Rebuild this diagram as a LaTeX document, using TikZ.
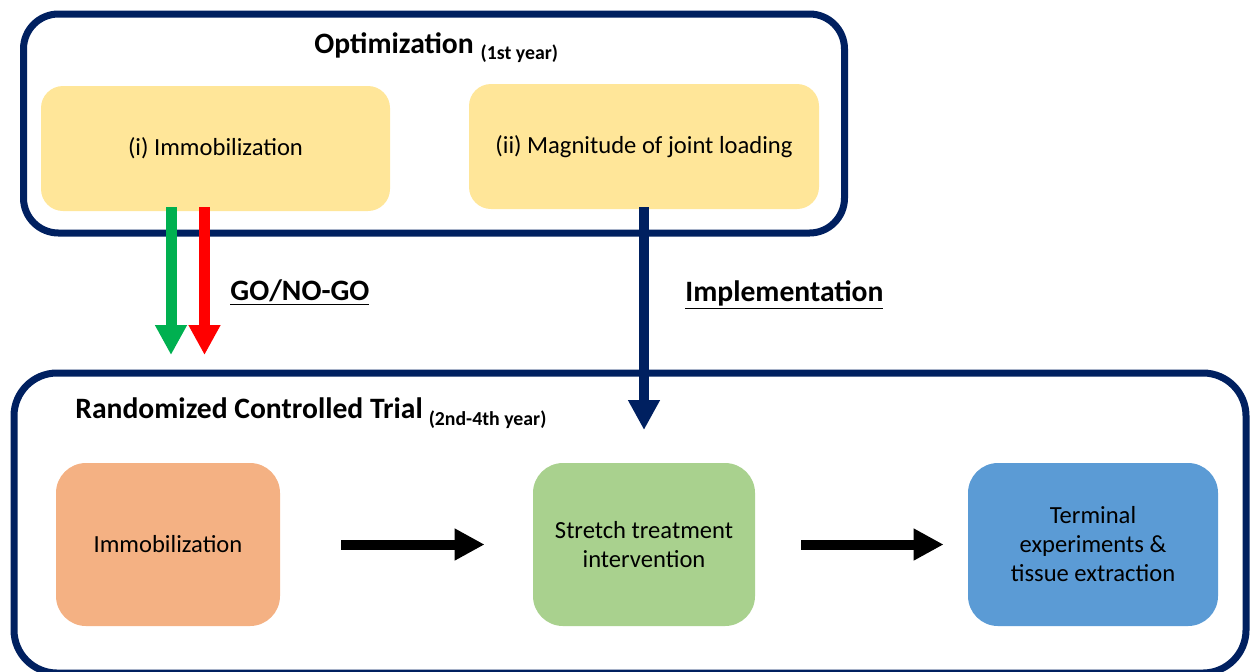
\documentclass[tikz,border=0pt]{standalone}
\usepackage{fontspec}
\setmainfont{Carlito}
\usetikzlibrary{arrows.meta,calc}
\definecolor{navy}{HTML}{002060}
\definecolor{paleyellow}{HTML}{FFE699}
\definecolor{peach}{HTML}{F4B183}
\definecolor{leaf}{HTML}{A9D18E}
\definecolor{sky}{HTML}{5B9BD5}
\definecolor{gogreen}{HTML}{00B050}
\definecolor{nogored}{HTML}{FF0000}
\newcommand{\headfont}{\fontsize{14.8}{17.5}\selectfont\bfseries}
\newcommand{\yearfont}{\fontsize{9.9}{11}\selectfont\bfseries}
\newcommand{\cardfont}{\fontsize{12.3}{14.5}\selectfont}
\tikzset{
  phase/.style={draw=navy, line width=3.5pt, fill=none, inner sep=0pt},
  card/.style={draw=none, rounded corners=11pt, align=center, inner sep=2pt, font=\cardfont},
  rctcard/.style={card, rounded corners=15pt, minimum width=#1, minimum height=81.5pt},
  block/.style={line width=5pt, -{Triangle[width=15pt,length=15pt]}},
  lbl/.style={inner sep=0pt, font=\headfont},
}
\begin{document}
\begin{tikzpicture}[x=0.5pt,y=-0.5pt]
\useasboundingbox (0,0) rectangle (1251,671);

% phase frames
\node[phase, rounded corners=17.5pt, minimum width=410.5pt, minimum height=109.5pt] (opt) at (434,123.5) {};
\node[phase, rounded corners=21.5pt, minimum width=616pt, minimum height=150pt] (rct) at (630,523) {};

% phase titles
\node[lbl, anchor=base west] (opttitle) at (314,53)
  {Optimization\hspace{3.5pt}\raisebox{-3pt}{\yearfont (1st year)}};
\node[lbl, anchor=base west] (rcttitle) at (75,418)
  {Randomized Controlled Trial\hspace{3pt}\raisebox{-3.5pt}{\yearfont (2nd-4th year)}};

% optimization studies
\node[card, fill=paleyellow, minimum width=174.5pt, minimum height=62.5pt] (immo) at (215.5,148.5) {(i) Immobilization};
\node[card, fill=paleyellow, minimum width=175pt, minimum height=62.5pt] (load) at (644,146.5) {(ii) Magnitude of joint loading};

% trial stages
\node[card, rctcard=112pt, fill=peach] (rimmo) at (168,544.5) {Immobilization};
\node[card, rctcard=111pt, fill=leaf] (stretch) at (644,544.5) {Stretch treatment\\intervention};
\node[card, rctcard=125pt, fill=sky] (term) at (1093,544.5) {Terminal\\experiments \&\\tissue extraction};

% decision arrows
\coordinate (goStart) at ($(immo.south)+(-44.5,-4)$);
\coordinate (goEnd) at (171,355);
\coordinate (nogoStart) at ($(immo.south)+(-11,-4)$);
\coordinate (nogoEnd) at (204.5,355);
\draw[block, gogreen, line width=5.5pt] (goStart) -- (goEnd);
\draw[block, nogored, line width=5.5pt] (nogoStart) -- (nogoEnd);

% implementation arrow
\coordinate (implEnd) at (644,430);
\draw[block, navy] ($(load.south)+(0,-2)$) -- (implEnd);

% stage flow
\draw[block, black, shorten <=30.5pt, shorten >=24pt] (rimmo.east) -- (stretch.west);
\draw[block, black, shorten <=23pt, shorten >=12pt] (stretch.east) -- (term.west);

% arrow labels
\node[lbl, anchor=base west] (gonogo) at (230,300) {\underline{GO/NO-GO}};
\node[lbl, anchor=base west] (impl) at (685,301) {\underline{Implementation}};
\end{tikzpicture}
\end{document}
